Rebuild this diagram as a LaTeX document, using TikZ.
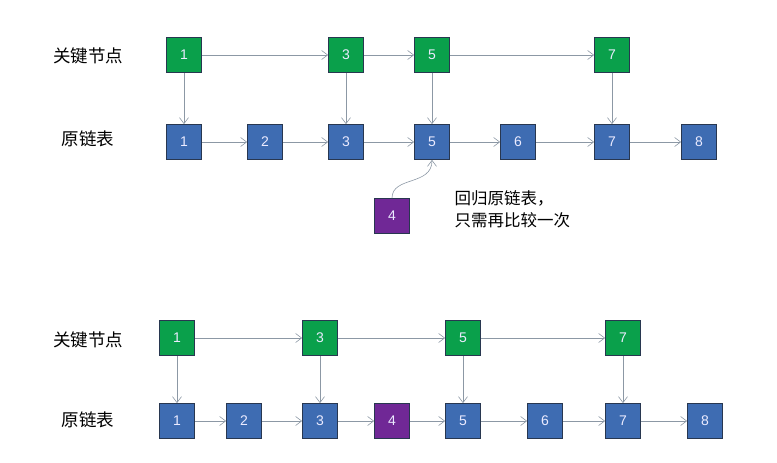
\documentclass[tikz,border=0pt]{standalone}
\usepackage{fontspec}
\newfontfamily\cjk{Noto Sans CJK SC}
\setsansfont{Liberation Sans}
\usepackage{xcolor}
\usetikzlibrary{positioning, arrows.meta}

\definecolor{keygreen}{RGB}{10,160,75}
\definecolor{listblue}{RGB}{62,108,178}
\definecolor{newpurple}{RGB}{112,40,150}
\definecolor{edgedark}{RGB}{40,55,80}
\definecolor{linegray}{RGB}{140,152,165}

\begin{document}
\begin{tikzpicture}[x=1pt, y=-1pt,
    box/.style={
      draw=edgedark, rectangle, minimum size=35pt, inner sep=0pt,
      font=\sffamily\fontsize{14}{16}\selectfont, text=white!92!blue,
      line width=0.8pt
    },
    kbox/.style={box, fill=keygreen},
    lbox/.style={box, fill=listblue},
    pbox/.style={box, fill=newpurple},
    arrow/.style={-{Straight Barb[length=6pt, width=9pt]}, draw=linegray,
      line width=0.6pt},
    rowlabel/.style={font=\cjk\fontsize{17.5}{21}\selectfont},
    notelabel/.style={font=\cjk\fontsize{16.5}{22}\selectfont}
  ]
    \useasboundingbox (0,0) rectangle (777,463);

    % ── Top: key nodes ──
    \node[rowlabel] (keytxtA) at (88,56) {关键节点};
    \node[kbox] (ka1) at (184,55) {1};
    \node[kbox] (ka3) at (346,55) {3};
    \node[kbox] (ka5) at (432,55) {5};
    \node[kbox] (ka7) at (612,55) {7};

    % ── Top: original list ──
    \node[rowlabel] (listtxtA) at (88,139) {原链表};
    \node[lbox] (la1) at (184,142) {1};
    \node[lbox] (la2) at (265,142) {2};
    \node[lbox] (la3) at (346,142) {3};
    \node[lbox] (la5) at (432,142) {5};
    \node[lbox] (la6) at (518,142) {6};
    \node[lbox] (la7) at (612,142) {7};
    \node[lbox] (la8) at (699,142) {8};

    \draw[arrow] (ka1) -- (ka3);
    \draw[arrow] (ka3) -- (ka5);
    \draw[arrow] (ka5) -- (ka7);
    \draw[arrow] (ka1) -- (la1);
    \draw[arrow] (ka3) -- (la3);
    \draw[arrow] (ka5) -- (la5);
    \draw[arrow] (ka7) -- (la7);
    \draw[arrow] (la1) -- (la2);
    \draw[arrow] (la2) -- (la3);
    \draw[arrow] (la3) -- (la5);
    \draw[arrow] (la5) -- (la6);
    \draw[arrow] (la6) -- (la7);
    \draw[arrow] (la7) -- (la8);

    % ── Top: node to insert ──
    \node[pbox] (new4) at (392,216) {4};
    \draw[arrow] (new4.north) .. controls (392,176) and (432,186) .. (la5.south);
    \node[notelabel, anchor=west, align=left] (note) at (451,209)
      {回归原链表，\\只需再比较一次};

    % ── Bottom: key nodes ──
    \node[rowlabel] (keytxtB) at (88,340) {关键节点};
    \node[kbox] (kb1) at (177,338) {1};
    \node[kbox] (kb3) at (320,338) {3};
    \node[kbox] (kb5) at (463,338) {5};
    \node[kbox] (kb7) at (623,338) {7};

    % ── Bottom: list after insert ──
    \node[rowlabel] (listtxtB) at (88,420) {原链表};
    \node[lbox] (lb1) at (177,421) {1};
    \node[lbox] (lb2) at (244,421) {2};
    \node[lbox] (lb3) at (320,421) {3};
    \node[pbox] (lb4) at (392,421) {4};
    \node[lbox] (lb5) at (463,421) {5};
    \node[lbox] (lb6) at (545,421) {6};
    \node[lbox] (lb7) at (623,421) {7};
    \node[lbox] (lb8) at (705,421) {8};

    \draw[arrow] (kb1) -- (kb3);
    \draw[arrow] (kb3) -- (kb5);
    \draw[arrow] (kb5) -- (kb7);
    \draw[arrow] (kb1) -- (lb1);
    \draw[arrow] (kb3) -- (lb3);
    \draw[arrow] (kb5) -- (lb5);
    \draw[arrow] (kb7) -- (lb7);
    \draw[arrow] (lb1) -- (lb2);
    \draw[arrow] (lb2) -- (lb3);
    \draw[arrow] (lb3) -- (lb4);
    \draw[arrow] (lb4) -- (lb5);
    \draw[arrow] (lb5) -- (lb6);
    \draw[arrow] (lb6) -- (lb7);
    \draw[arrow] (lb7) -- (lb8);

  \end{tikzpicture}
\end{document}
